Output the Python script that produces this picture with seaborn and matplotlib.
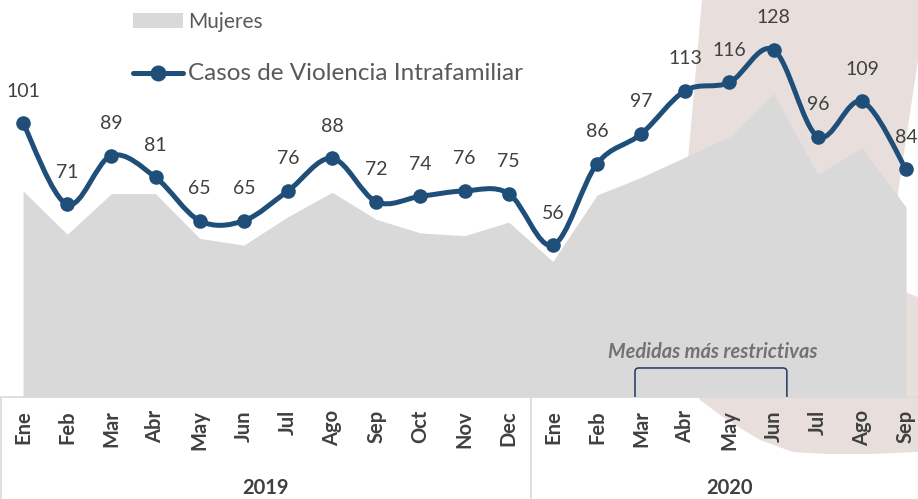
import numpy as np
import pandas as pd
import matplotlib
matplotlib.use("Agg")
import matplotlib.pyplot as plt
import seaborn as sns
from matplotlib.path import Path
from matplotlib.patches import PathPatch, Patch, Polygon
from matplotlib.lines import Line2D

# ---------------- data ----------------
months = ["Ene", "Feb", "Mar", "Abr", "May", "Jun", "Jul", "Ago", "Sep", "Oct", "Nov", "Dec",
          "Ene", "Feb", "Mar", "Abr", "May", "Jun", "Jul", "Ago", "Sep"]
years = ["2019"] * 12 + ["2020"] * 9
casos = [101, 71, 89, 81, 65, 65, 76, 88, 72, 74, 76, 75,
         56, 86, 97, 113, 116, 128, 96, 109, 84]
mujeres = [76, 60, 75, 75, 58.5, 56, 66.5, 75.5, 65.5, 60.5, 59.5, 64.5,
           50, 74.5, 81, 88.5, 96, 112, 82, 92, 70]
year_labels = ["2019", "2020"]
legend_labels = ["Mujeres", "Casos de Violencia Intrafamiliar"]
annotation_text = "Medidas más restrictivas"

df = pd.DataFrame({"idx": np.arange(len(months)), "mes": months, "anio": years,
                   "casos": casos, "mujeres": mujeres})

# ---------------- style ----------------
sns.set_theme(style="white")
plt.rcParams["font.family"] = ["Lato", "DejaVu Sans"]

LINE_C = "#1F4E79"
AREA_C = "#D9D9D9"
PINK_C = "#E8DFDC"
TXT_C = "#404040"
GRID_C = "#D9D9D9"

W, H = 918, 499
fig = plt.figure(figsize=(W / 100, H / 100), dpi=100)
fig.patch.set_facecolor("white")


def fx(px):
    return px / W


def fy(py):
    return 1 - py / H


# decorative background shape
pink_pts = [(702, 0), (918, 0), (918, 452), (870, 454), (827, 454), (793, 452), (760, 440),
            (727, 420), (700, 400), (688, 370), (684, 300), (683, 240), (688, 160), (695, 80)]
fig.add_artist(Polygon([(fx(x), fy(y)) for x, y in pink_pts], closed=True,
                       transform=fig.transFigure, facecolor=PINK_C, edgecolor="none", zorder=-2))
white_pts = [(918, 60), (898, 193), (898, 285), (905, 292), (918, 297)]
fig.add_artist(Polygon([(fx(x), fy(y)) for x, y in white_pts], closed=True,
                       transform=fig.transFigure, facecolor="white", edgecolor="none", zorder=-1))

ax = fig.add_axes([fx(1), 1 - 397 / H, (W - 1) / W, 397 / H])
ax.set_facecolor("none")
for s in ax.spines.values():
    s.set_visible(False)

# area (Mujeres)
ax.fill_between(df["idx"], 0, df["mujeres"], color=AREA_C, linewidth=0, zorder=1)

# smooth line (Casos) via cubic Bezier through the data points
x = df["idx"].to_numpy(dtype=float)
y = df["casos"].to_numpy(dtype=float)
n = len(x)
verts = [(x[0], y[0])]
codes = [Path.MOVETO]
for i in range(n - 1):
    p0 = np.array([x[max(i - 1, 0)], y[max(i - 1, 0)]])
    p1 = np.array([x[i], y[i]])
    p2 = np.array([x[i + 1], y[i + 1]])
    p3 = np.array([x[min(i + 2, n - 1)], y[min(i + 2, n - 1)]])
    c1 = p1 + (p2 - p0) / 6.0
    c2 = p2 - (p3 - p1) / 6.0
    verts += [tuple(c1), tuple(c2), tuple(p2)]
    codes += [Path.CURVE4] * 3
ax.add_patch(PathPatch(Path(verts, codes), facecolor="none", edgecolor=LINE_C,
                       linewidth=3.6, capstyle="round", joinstyle="round", zorder=3))
sns.scatterplot(data=df, x="idx", y="casos", ax=ax, s=110, color=LINE_C,
                edgecolor=LINE_C, linewidth=0, zorder=4, legend=False)
ax.set_xlabel("")
ax.set_ylabel("")
ax.set_xticks([])
ax.set_yticks([])
ax.set_xlim(-0.5, 20.27)
ax.set_ylim(0, 146.4)

# data labels
for xi, yi in zip(df["idx"], df["casos"]):
    ax.annotate(f"{yi}", xy=(xi, yi), xytext=(0, 32), textcoords="offset pixels",
                ha="center", va="center", fontsize=14, color=TXT_C, zorder=5,
                annotation_clip=False)

# category axis (two levels)
ax.plot([0, 1], [0, 0], transform=ax.transAxes, color=GRID_C, lw=1.2, clip_on=False, zorder=2)
for xi, m in zip(df["idx"], df["mes"]):
    ax.annotate(m, xy=(xi, 0), xycoords=("data", "axes fraction"), xytext=(0, -13),
                textcoords="offset pixels", rotation=90, ha="center", va="top",
                fontsize=14.5, fontweight="bold", color=TXT_C, annotation_clip=False)
for sp in [-0.5, 11.5]:
    ax.plot([sp, sp], [0, -102 / 397], transform=ax.get_xaxis_transform(),
            color=GRID_C, lw=1.2, clip_on=False)
year_centers = [df.loc[df["anio"] == yl, "idx"].mean() for yl in year_labels]
for yc, yl in zip(year_centers, year_labels):
    ax.annotate(yl, xy=(yc, 0), xycoords=("data", "axes fraction"), xytext=(0, -91),
                textcoords="offset pixels", ha="center", va="center",
                fontsize=14.5, fontweight="bold", color=TXT_C, annotation_clip=False)

# annotation bracket
bx0, bx1, btop, r = 13.86, 17.30, 10.7, 0.09
bverts = [(bx0, 0), (bx0, btop - 1.3), (bx0, btop), (bx0 + r, btop),
          (bx1 - r, btop), (bx1, btop), (bx1, btop - 1.3), (bx1, 0)]
bcodes = [Path.MOVETO, Path.LINETO, Path.CURVE3, Path.CURVE3,
          Path.LINETO, Path.CURVE3, Path.CURVE3, Path.LINETO]
ax.add_patch(PathPatch(Path(bverts, bcodes), facecolor="none", edgecolor="#1F3864",
                       linewidth=1.1, zorder=2))
ax.text((bx0 + bx1) / 2 + 0.05, 16.6, annotation_text, ha="center", va="center", fontsize=14.4,
        fontstyle="italic", fontweight="bold", color="#767171", zorder=2)

# legend
handles = [Patch(facecolor=AREA_C, edgecolor="none"),
           Line2D([0], [0], color=LINE_C, lw=3.6, marker="o", markersize=10.5,
                  markerfacecolor=LINE_C, markeredgecolor=LINE_C)]
leg = ax.legend(handles, legend_labels, loc="upper left", bbox_to_anchor=(fx(133), fy(12)),
                bbox_transform=fig.transFigure, frameon=False, fontsize=15,
                handlelength=2.4, handleheight=0.7, handletextpad=0.24,
                labelspacing=1.5, borderpad=0, borderaxespad=0)
texts = leg.get_texts()
for t in texts:
    t.set_color("#595959")
texts[1].set_fontsize(17.5)

fig.savefig("out.png", dpi=100, facecolor="white")
